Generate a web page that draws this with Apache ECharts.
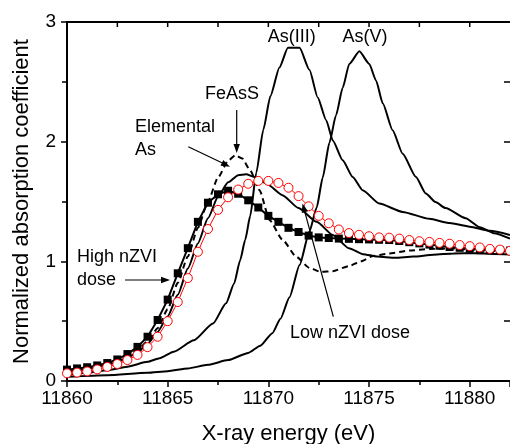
<!DOCTYPE html>
<html>
<head>
<meta charset="utf-8">
<title>As K-edge XANES</title>
<script src="https://cdn.jsdelivr.net/npm/echarts@6/dist/echarts.min.js"></script>
<style>
  html, body { margin: 0; padding: 0; background: #fff; }
</style>
</head>
<body>
<div id="main" style="width:510px;height:444px;"></div>
<script>
// data: [energy (eV), normalized absorption]
var xTicks = [11860, 11865, 11870, 11875, 11880];
var topTicks = [11862.5, 11865, 11867.5, 11870, 11872.5, 11875, 11877.5, 11880];
var yTicks = [0, 1, 2, 3];

var highDose = [
  [11860, 0.095], [11860.5, 0.105], [11861, 0.115], [11861.5, 0.13], [11862, 0.15],
  [11862.5, 0.18], [11863, 0.225], [11863.5, 0.285], [11864, 0.37], [11864.5, 0.51],
  [11865, 0.68], [11865.5, 0.9], [11866, 1.11], [11866.5, 1.33], [11867, 1.49],
  [11867.5, 1.56], [11868, 1.59], [11868.5, 1.565], [11869, 1.51], [11869.5, 1.45],
  [11870, 1.38], [11870.5, 1.33], [11871, 1.28], [11871.5, 1.245], [11872, 1.215],
  [11872.5, 1.2], [11873, 1.195], [11873.5, 1.19], [11874, 1.188], [11874.5, 1.185],
  [11875, 1.183], [11875.5, 1.18], [11876, 1.178], [11876.5, 1.17], [11877, 1.16],
  [11877.5, 1.15], [11878, 1.14], [11878.5, 1.13], [11879, 1.12], [11879.5, 1.113],
  [11880, 1.105], [11880.5, 1.1], [11881, 1.095], [11881.5, 1.092], [11882, 1.09]
];

var lowDose = [
  [11860, 0.064], [11860.5, 0.07], [11861, 0.08], [11861.5, 0.097], [11862, 0.118],
  [11862.5, 0.142], [11863, 0.175], [11863.5, 0.218], [11864, 0.283], [11864.5, 0.37],
  [11865, 0.5], [11865.5, 0.66], [11866, 0.86], [11866.5, 1.08], [11867, 1.27],
  [11867.5, 1.43], [11868, 1.535], [11868.5, 1.6], [11869, 1.648], [11869.5, 1.672],
  [11870, 1.672], [11870.5, 1.655], [11871, 1.615], [11871.5, 1.545], [11872, 1.46],
  [11872.5, 1.38], [11873, 1.318], [11873.5, 1.266], [11874, 1.236], [11874.5, 1.222],
  [11875, 1.21], [11875.5, 1.2], [11876, 1.198], [11876.5, 1.19], [11877, 1.178],
  [11877.5, 1.168], [11878, 1.162], [11878.5, 1.154], [11879, 1.147], [11879.5, 1.136],
  [11880, 1.127], [11880.5, 1.116], [11881, 1.104], [11881.5, 1.098], [11882, 1.088]
];

var elementalAs = [
  [11860, 0.075], [11861, 0.098], [11862, 0.135], [11862.5, 0.16], [11863, 0.195],
  [11863.5, 0.24], [11864, 0.31], [11864.5, 0.41], [11865, 0.54], [11865.5, 0.72],
  [11866, 0.94], [11866.5, 1.15], [11867, 1.36], [11867.5, 1.54], [11868, 1.66],
  [11868.5, 1.72], [11868.9, 1.727], [11869.3, 1.705], [11869.9, 1.65], [11870.7, 1.553],
  [11871.5, 1.445], [11872.4, 1.33], [11873.2, 1.22], [11874, 1.11], [11874.7, 1.06],
  [11875.4, 1.04], [11876.3, 1.03], [11877.2, 1.04], [11878.2, 1.055], [11879.2, 1.066],
  [11880.2, 1.068], [11881.2, 1.062], [11882, 1.058]
];

var feAsS = [
  [11860, 0.085], [11861, 0.105], [11862, 0.145], [11862.5, 0.17], [11863, 0.21],
  [11863.5, 0.26], [11864, 0.33], [11864.5, 0.44], [11865, 0.6], [11865.5, 0.82],
  [11866, 1.04], [11866.5, 1.28], [11867, 1.5], [11867.5, 1.7], [11868, 1.84],
  [11868.35, 1.886], [11868.7, 1.86], [11869.1, 1.76], [11869.56, 1.594], [11870.06, 1.344],
  [11870.72, 1.177], [11871.38, 1.04], [11872.04, 0.945], [11872.6, 0.912], [11873.2, 0.918],
  [11874, 0.96], [11874.6, 1.0], [11875.2, 1.045], [11876, 1.065], [11877, 1.09],
  [11878, 1.103], [11879, 1.108], [11880, 1.1], [11881, 1.088], [11882, 1.08]
];

var asIII = [
  [11860, 0.05], [11861, 0.068], [11862, 0.09], [11863, 0.12], [11864, 0.16],
  [11864.6, 0.19], [11865.3, 0.245], [11866.3, 0.34], [11867.25, 0.48], [11867.9, 0.65],
  [11868.3, 0.815], [11868.6, 1.01], [11868.85, 1.18], [11869.1, 1.38], [11869.4, 1.74],
  [11869.75, 2.1], [11870.1, 2.38], [11870.55, 2.62], [11870.97, 2.785], [11871.55, 2.785],
  [11872.04, 2.6], [11872.45, 2.37], [11872.87, 2.18], [11873.2, 2.01], [11873.69, 1.845],
  [11874.19, 1.705], [11874.68, 1.594], [11875.51, 1.483], [11876.67, 1.413], [11878, 1.355],
  [11879, 1.32], [11880, 1.29], [11881, 1.255], [11882, 1.22]
];

var asV = [
  [11860, 0.035], [11862, 0.048], [11864, 0.068], [11865, 0.082], [11866, 0.105],
  [11867, 0.135], [11868, 0.175], [11869, 0.235], [11869.6, 0.295], [11870.2, 0.4],
  [11870.6, 0.52], [11871.05, 0.7], [11871.55, 0.97], [11872.04, 1.25], [11872.4, 1.45],
  [11872.7, 1.7], [11873.03, 1.99], [11873.36, 2.22], [11873.69, 2.45], [11874.02, 2.65],
  [11874.52, 2.755], [11875.01, 2.65], [11875.35, 2.51], [11875.68, 2.32], [11876.17, 2.095],
  [11876.67, 1.9], [11877.33, 1.705], [11877.82, 1.567], [11878.3, 1.495], [11878.8, 1.445],
  [11879.8, 1.36], [11880.5, 1.285], [11881.2, 1.235], [11882, 1.19]
];

var FONT = 'Arial';
var myChart = echarts.init(document.getElementById('main'));

function curve(name, data, dashed) {
  return {
    name: name, type: 'line', data: data, symbol: 'none',
    smooth: 0.2, smoothMonotone: 'x',
    lineStyle: { color: '#000', width: 2, type: dashed ? [6, 4] : 'solid' },
    z: 2
  };
}

function arrow(x1, y1, x2, y2) {
  var a = Math.atan2(y2 - y1, x2 - x1), hl = 9, hw = 3.2;
  var bx = x2 - hl * Math.cos(a), by = y2 - hl * Math.sin(a);
  return [
    { type: 'line', shape: { x1: x1, y1: y1, x2: bx, y2: by }, style: { stroke: '#000', lineWidth: 1.2 }, z: 50 },
    { type: 'polygon', shape: { points: [[x2, y2], [bx + hw * Math.sin(a), by - hw * Math.cos(a)], [bx - hw * Math.sin(a), by + hw * Math.cos(a)]] },
      style: { fill: '#000' }, z: 50 }
  ];
}

function label(text, x, y, align) {
  return { type: 'text', z: 50,
    style: { text: text, x: x, y: y, fill: '#000', fontSize: 18, fontFamily: FONT,
      align: align || 'left', verticalAlign: 'middle', textAlign: align || 'left', textVerticalAlign: 'middle' } };
}

function axisLine(show) {
  return { show: show, onZero: false, lineStyle: { color: '#000', width: 2 } };
}
function ticks(inside, len) {
  return { show: true, inside: inside, length: len, lineStyle: { color: '#000', width: 1.5 } };
}
function minor(len) {
  return { show: true, splitNumber: 2, length: len, lineStyle: { color: '#000', width: 1.5 } };
}
var xLabelFmt = function (v) { return xTicks.indexOf(v) >= 0 ? String(v) : ''; };
var yLabelFmt = function (v) { return yTicks.indexOf(v) >= 0 ? String(v) : ''; };

var option = {
  animation: false,
  backgroundColor: '#fff',
  grid: { left: 67, right: 0, top: 22, bottom: 63, outerBoundsMode: 'none', containLabel: false },
  xAxis: {
    type: 'value', min: 11860, max: 11882, interval: 5, position: 'bottom',
    name: 'X-ray energy (eV)', nameLocation: 'middle', nameGap: 42,
    nameTextStyle: { fontSize: 22, color: '#000', fontFamily: FONT },
    axisLine: axisLine(true),
    axisTick: ticks(false, 6),
    minorTick: minor(4),
    axisLabel: { fontSize: 19, color: '#000', fontFamily: FONT, margin: 8, formatter: xLabelFmt },
    splitLine: { show: false }, minorSplitLine: { show: false }
  },
  yAxis: [
    {
      type: 'value', min: 0, max: 3, interval: 1, position: 'left',
      name: 'Normalized absorption coefficient', nameLocation: 'middle', nameGap: 34,
      nameTextStyle: { fontSize: 22, color: '#000', fontFamily: FONT },
      axisLine: axisLine(true),
      axisTick: ticks(false, 6),
      minorTick: minor(5),
      axisLabel: { fontSize: 19, color: '#000', fontFamily: FONT, margin: 11, formatter: yLabelFmt },
      splitLine: { show: false }, minorSplitLine: { show: false }
    },
    {
      type: 'value', min: 0, max: 3, interval: 1, position: 'right',
      axisLine: axisLine(false),
      axisTick: ticks(true, 6),
      minorTick: minor(6),
      axisLabel: { show: false }, splitLine: { show: false }, minorSplitLine: { show: false }
    }
  ],
  series: [
    curve('As(V)', asV),
    curve('As(III)', asIII),
    curve('FeAsS', feAsS, true),
    curve('Elemental As', elementalAs),
    {
      name: 'High nZVI dose', type: 'line', data: highDose,
      symbol: 'rect', symbolSize: 8,
      itemStyle: { color: '#000' },
      lineStyle: { color: '#000', width: 2 },
      z: 3
    },
    {
      name: 'Low nZVI dose', type: 'line', data: lowDose,
      symbol: 'circle', symbolSize: 9,
      itemStyle: { color: '#fff', borderColor: '#ff0000', borderWidth: 1 },
      lineStyle: { color: '#ff0000', width: 1 },
      z: 4
    }
  ],
  graphic: [].concat(
    label('As(III)', 291.7, 37.5, 'center'),
    label('As(V)', 365, 37.5, 'center'),
    label('FeAsS', 205, 94),
    arrow(236.7, 110, 236.7, 153),
    label('Elemental', 135, 127),
    label('As', 135, 150),
    arrow(188.3, 146.7, 230, 166.7),
    label('High nZVI', 77, 257),
    label('dose', 77, 280),
    arrow(125, 280, 170, 280),
    label('Low nZVI dose', 290, 333),
    arrow(333.3, 316.7, 302.5, 203.5)
  )
};
myChart.setOption(option);

// top edge of the frame with inward ticks, placed through the chart's own axes
var topLeft = myChart.convertToPixel({ xAxisIndex: 0, yAxisIndex: 0 }, [11860, 3]);
var topRight = myChart.convertToPixel({ xAxisIndex: 0, yAxisIndex: 0 }, [11882, 3]);
var frame = [{
  type: 'line', z: 60, silent: true,
  shape: { x1: topLeft[0] - 1, y1: topLeft[1], x2: topRight[0], y2: topRight[1] },
  style: { stroke: '#000', lineWidth: 2 }
}];
topTicks.forEach(function (x) {
  var p = myChart.convertToPixel({ xAxisIndex: 0, yAxisIndex: 0 }, [x, 3]);
  frame.push({
    type: 'line', z: 60, silent: true,
    shape: { x1: p[0], y1: p[1], x2: p[0], y2: p[1] + 5 },
    style: { stroke: '#000', lineWidth: 1.5 }
  });
});
myChart.setOption({ graphic: option.graphic.concat(frame) });
</script>
</body>
</html>
